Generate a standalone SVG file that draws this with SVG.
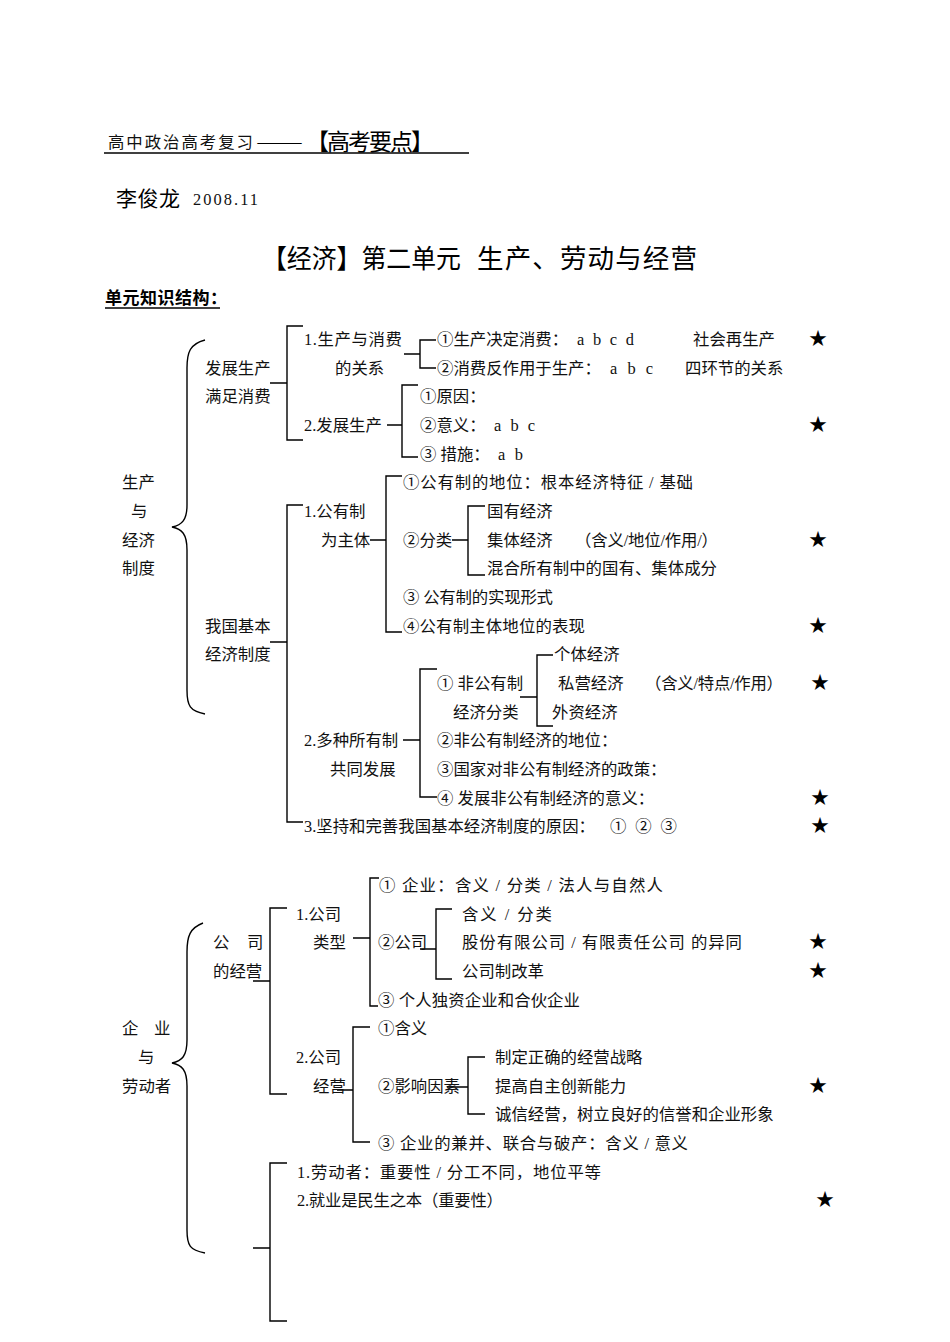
<svg xmlns="http://www.w3.org/2000/svg" width="950" height="1342" viewBox="0 0 950 1342">
<style>
.t{font-family:"Liberation Serif","Noto Sans CJK SC",serif;font-size:16.4px;fill:#111}
.h{font-family:"Noto Sans CJK SC",sans-serif;fill:#000}
.s{font-family:"Noto Sans CJK SC","DejaVu Sans",sans-serif;font-size:18px;fill:#000;text-anchor:middle}
.c{fill:none;stroke:#000;stroke-width:1.4}
</style>
<rect width="950" height="1342" fill="#fff"/>
<g id="header">
<text class="t" x="108" y="148" font-size="15" textLength="145" lengthAdjust="spacing">高中政治高考复习</text>
<text class="h" x="256" y="148" font-size="16" textLength="47" lengthAdjust="spacingAndGlyphs">——</text>
<text class="h" x="306" y="150" font-size="23" textLength="128" lengthAdjust="spacing">【高考要点】</text>
<line x1="104" y1="153" x2="469" y2="153" stroke="#000" stroke-width="1.3"/>
<text class="h" x="116" y="206" font-size="21" textLength="64" lengthAdjust="spacing">李俊龙</text>
<text class="t" x="193" y="205" font-size="18" textLength="65" lengthAdjust="spacing" font-family="Liberation Serif">2008.11</text>
<text class="h" x="262" y="268" font-size="26.5" textLength="199" lengthAdjust="spacingAndGlyphs">【经济】第二单元</text>
<text class="h" x="477" y="268" font-size="26.5" textLength="220" lengthAdjust="spacing">生产、劳动与经营</text>
<text class="h" x="105" y="304" font-size="17" font-weight="bold" textLength="122" lengthAdjust="spacing">单元知识结构：</text>
<line x1="105" y1="308" x2="220" y2="308" stroke="#000" stroke-width="1.3"/>
</g>
<g id="connectors">
<path class="c" d="M205,340 C190,344 187,352 187,368 L187,505 C187,520 182,525 172,527 C182,529 187,534 187,550 L187,690 C187,706 190,711 205,714"/>
<path class="c" d="M270,383 H287 M303,326 H287 V440 H303"/>
<path class="c" d="M404,354 H420 M436,340 H420 V368 H436"/>
<path class="c" d="M387,425 H402 M418,385 H402 V457 H418"/>
<path class="c" d="M270,642 H287 M303,505 H287 V822 H303"/>
<path class="c" d="M370,540 H386 M402,476 H386 V632 H402"/>
<path class="c" d="M452,540 H468 M485,506 H468 V575 H485"/>
<path class="c" d="M403,740 H420 M437,669 H420 V797 H437"/>
<path class="c" d="M520,697 H537 M553,655 H537 V726 H553"/>
<path class="c" d="M203,923 C190,928 187,936 187,952 L187,1040 C187,1056 182,1061 172,1063 C182,1065 187,1070 187,1086 L187,1230 C187,1246 190,1250 205,1253"/>
<path class="c" d="M253,981 H270 M287,908 H270 V1094 H287"/>
<path class="c" d="M353,938 H370 M379,878 H370 V1006 H378"/>
<path class="c" d="M420,949 H436 M452,909 H436 V979 H452"/>
<path class="c" d="M337,1090 H353 M370,1027 H353 V1142 H370"/>
<path class="c" d="M447,1087 H468 M485,1057 H468 V1114 H485"/>
<path class="c" d="M253,1248 H270 M287,1163 H270 V1321 H287"/>
</g>
<g id="n-production-economy">
<text class="t" x="122" y="488">生产</text>
<text class="t" x="131" y="517">与</text>
<text class="t" x="122" y="545.5">经济</text>
<text class="t" x="122" y="574">制度</text>
</g>
<g id="n-develop">
<text class="t" x="205" y="373.5">发展生产</text>
<text class="t" x="205" y="402">满足消费</text>
</g>
<g id="n-prod-consume">
<text class="t" x="304" y="345" textLength="98" lengthAdjust="spacing">1.生产与消费</text>
<text class="t" x="335" y="373.5">的关系</text>
</g>
<g id="n-decide">
<text class="t" x="437" y="345">①生产决定消费：</text>
<text class="t" x="577" y="345" textLength="57" lengthAdjust="spacing">a b c d</text>
<text class="t" x="693" y="345">社会再生产</text>
<text class="s" x="818" y="345">★</text>
</g>
<g id="n-react">
<text class="t" x="437" y="373.5">②消费反作用于生产：</text>
<text class="t" x="610" y="373.5" textLength="43" lengthAdjust="spacing">a b c</text>
<text class="t" x="685" y="373.5">四环节的关系</text>
</g>
<g id="n-dev-prod">
<text class="t" x="304" y="431">2.发展生产</text>
</g>
<g id="n-reason"><text class="t" x="420" y="402">①原因：</text></g>
<g id="n-meaning">
<text class="t" x="420" y="431">②意义：</text>
<text class="t" x="494" y="431" textLength="41" lengthAdjust="spacing">a b c</text>
<text class="s" x="818" y="431">★</text>
</g>
<g id="n-measures">
<text class="t" x="420" y="459.5">③ 措施：</text>
<text class="t" x="498" y="459.5" textLength="25" lengthAdjust="spacing">a b</text>
</g>
<g id="n-basic-system">
<text class="t" x="205" y="631.5">我国基本</text>
<text class="t" x="205" y="660">经济制度</text>
</g>
<g id="n-public-main">
<text class="t" x="304" y="517">1.公有制</text>
<text class="t" x="321" y="545.5">为主体</text>
</g>
<g id="n-public-status"><text class="t" x="403" y="488" textLength="290" lengthAdjust="spacing">①公有制的地位：根本经济特征 / 基础</text></g>
<g id="n-classify"><text class="t" x="403" y="545.5">②分类</text></g>
<g id="n-state"><text class="t" x="487" y="517">国有经济</text></g>
<g id="n-collective">
<text class="t" x="487" y="545.5">集体经济</text>
<text class="t" x="575" y="545.5" textLength="143" lengthAdjust="spacing">（含义/地位/作用/）</text>
<text class="s" x="818" y="545.5">★</text>
</g>
<g id="n-mixed"><text class="t" x="487" y="574" textLength="230" lengthAdjust="spacing">混合所有制中的国有、集体成分</text></g>
<g id="n-forms"><text class="t" x="403" y="603" textLength="150" lengthAdjust="spacing">③ 公有制的实现形式</text></g>
<g id="n-dominant">
<text class="t" x="403" y="631.5" textLength="182" lengthAdjust="spacing">④公有制主体地位的表现</text>
<text class="s" x="818" y="631.5">★</text>
</g>
<g id="n-multi">
<text class="t" x="304" y="746">2.多种所有制</text>
<text class="t" x="330" y="775">共同发展</text>
</g>
<g id="n-nonpublic-class">
<text class="t" x="437" y="689">① 非公有制</text>
<text class="t" x="453" y="717.5">经济分类</text>
</g>
<g id="n-individual"><text class="t" x="554" y="660">个体经济</text></g>
<g id="n-private">
<text class="t" x="558" y="689">私营经济</text>
<text class="t" x="645" y="689" textLength="138" lengthAdjust="spacing">（含义/特点/作用）</text>
<text class="s" x="820" y="689">★</text>
</g>
<g id="n-foreign"><text class="t" x="552" y="717.5">外资经济</text></g>
<g id="n-nonpublic-status"><text class="t" x="437" y="746">②非公有制经济的地位：</text></g>
<g id="n-policy"><text class="t" x="437" y="775">③国家对非公有制经济的政策：</text></g>
<g id="n-significance">
<text class="t" x="437" y="803.5">④ 发展非公有制经济的意义：</text>
<text class="s" x="820" y="803.5">★</text>
</g>
<g id="n-adhere">
<text class="t" x="304" y="832">3.坚持和完善我国基本经济制度的原因：</text>
<text class="t" x="610" y="832" textLength="67" lengthAdjust="spacing">① ② ③</text>
<text class="s" x="820" y="832">★</text>
</g>
<g id="n-enterprise-labor">
<text class="t" x="122" y="1034">企</text>
<text class="t" x="154" y="1034">业</text>
<text class="t" x="138" y="1063">与</text>
<text class="t" x="122" y="1091.5">劳动者</text>
</g>
<g id="n-company-op">
<text class="t" x="213" y="948">公</text>
<text class="t" x="247" y="948">司</text>
<text class="t" x="213" y="977">的经营</text>
</g>
<g id="n-company-type">
<text class="t" x="296" y="919.5">1.公司</text>
<text class="t" x="313" y="948">类型</text>
</g>
<g id="n-enterprise"><text class="t" x="379" y="891" textLength="284" lengthAdjust="spacing">① 企业：含义 / 分类 / 法人与自然人</text></g>
<g id="n-company"><text class="t" x="378" y="948">②公司</text></g>
<g id="n-company-def"><text class="t" x="462" y="919.5" textLength="90" lengthAdjust="spacing">含义 / 分类</text></g>
<g id="n-company-kinds">
<text class="t" x="462" y="948" textLength="280" lengthAdjust="spacing">股份有限公司 / 有限责任公司  的异同</text>
<text class="s" x="818" y="948">★</text>
</g>
<g id="n-company-reform">
<text class="t" x="462" y="977">公司制改革</text>
<text class="s" x="818" y="977">★</text>
</g>
<g id="n-sole"><text class="t" x="378" y="1005.5" textLength="202" lengthAdjust="spacing">③ 个人独资企业和合伙企业</text></g>
<g id="n-company-manage">
<text class="t" x="296" y="1063">2.公司</text>
<text class="t" x="313" y="1091.5">经营</text>
</g>
<g id="n-def"><text class="t" x="378" y="1034">①含义</text></g>
<g id="n-factors"><text class="t" x="378" y="1091.5">②影响因素</text></g>
<g id="n-strategy"><text class="t" x="495" y="1063">制定正确的经营战略</text></g>
<g id="n-innovation">
<text class="t" x="495" y="1091.5">提高自主创新能力</text>
<text class="s" x="818" y="1091.5">★</text>
</g>
<g id="n-integrity"><text class="t" x="495" y="1120">诚信经营，树立良好的信誉和企业形象</text></g>
<g id="n-merger"><text class="t" x="378" y="1149" textLength="310" lengthAdjust="spacing">③ 企业的兼并、联合与破产：含义 / 意义</text></g>
<g id="n-laborer"><text class="t" x="297" y="1177.5" textLength="304" lengthAdjust="spacing">1.劳动者：重要性 / 分工不同，地位平等</text></g>
<g id="n-employment">
<text class="t" x="297" y="1206" textLength="206" lengthAdjust="spacing">2.就业是民生之本（重要性）</text>
<text class="s" x="825" y="1206">★</text>
</g>
</svg>
